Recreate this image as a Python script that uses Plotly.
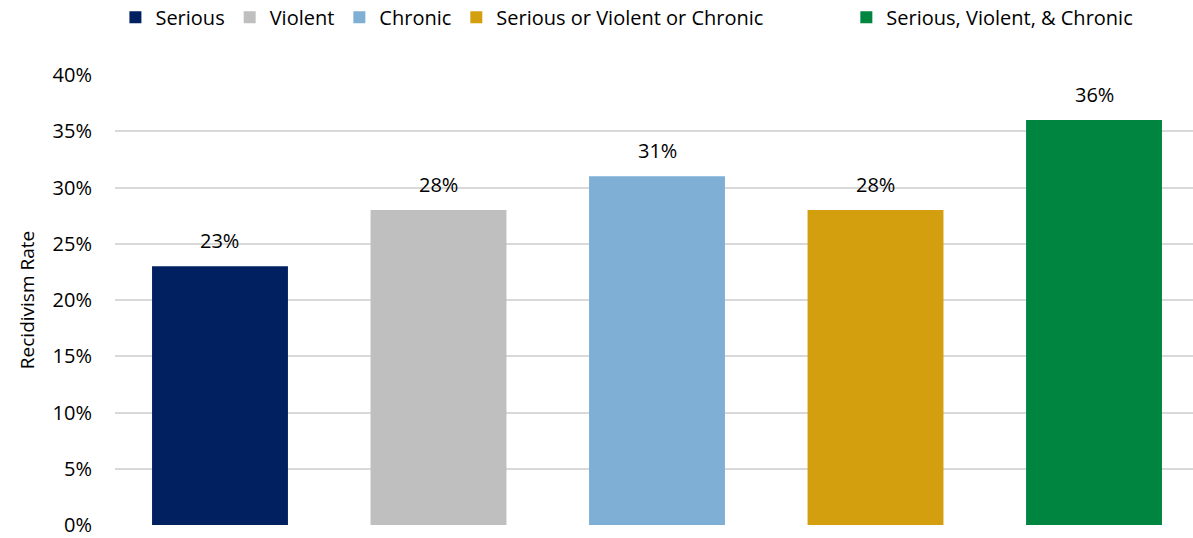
import plotly.graph_objects as go

categories = ["Serious", "Violent", "Chronic", "Serious or Violent or Chronic", "Serious, Violent, & Chronic"]
rates = [0.23, 0.28, 0.31, 0.28, 0.36]
colors = ["#002060", "#BFBFBF", "#7FAFD5", "#D49F0F", "#008540"]
y_ticks = [0, 0.05, 0.10, 0.15, 0.20, 0.25, 0.30, 0.35, 0.40]
y_tick_labels = ["0%", "5%", "10%", "15%", "20%", "25%", "30%", "35%", "40%"]

FONT = "Open Sans, Noto Sans, sans-serif"

# extra trailing room after the long fourth legend entry
legend_pad = {categories[3]: "\u00a0" * 15}

fig = go.Figure()
for cat, val, col in zip(categories, rates, colors):
    fig.add_trace(go.Bar(
        x=[cat], y=[val], name=cat + legend_pad.get(cat, ""),
        marker=dict(color=col, line=dict(width=0)),
        width=0.622,
        hoverinfo="y",
    ))
    # value label sitting above each bar
    fig.add_annotation(
        x=cat, y=val, text=f"{round(val * 100)}%",
        showarrow=False, yanchor="bottom", yshift=10,
        font=dict(size=20, color="#000000", family=FONT),
    )

fig.update_layout(
    width=1193, height=538,
    margin=dict(l=115, r=0, t=75, b=13),
    paper_bgcolor="white", plot_bgcolor="white",
    barmode="overlay",
    font=dict(family=FONT, size=20, color="#000000"),
    showlegend=True,
    legend=dict(
        orientation="h", xref="container", yref="container",
        x=0.5255, xanchor="center", y=0.968, yanchor="middle",
        font=dict(size=20, family=FONT, color="#000000"),
        itemwidth=30, traceorder="normal",
    ),
    xaxis=dict(
        type="category", categoryorder="array", categoryarray=categories,
        range=[-0.4805, 4.453], showticklabels=False, showgrid=False,
        zeroline=False, showline=False, ticks="",
    ),
    yaxis=dict(
        range=[0, 0.4], tickvals=y_ticks, ticktext=y_tick_labels,
        showgrid=True, gridcolor="#D9D9D9", gridwidth=2,
        zeroline=False, showline=False, ticks="",
        ticklabelstandoff=22,
        tickfont=dict(size=20, family=FONT, color="#000000"),
        title=dict(text="Recidivism Rate", standoff=12,
                   font=dict(size=19, family=FONT, color="#000000")),
    ),
)

fig.write_html("out.html")
